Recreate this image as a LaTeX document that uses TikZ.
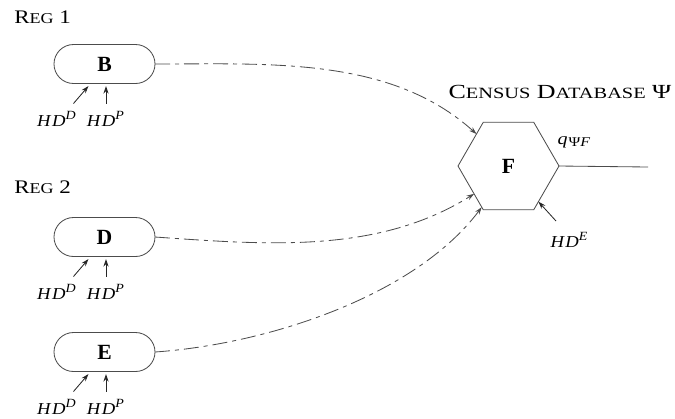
\documentclass[tikz,border=0pt]{standalone}
\usepackage{fontspec}
\usepackage{graphicx}
\setmainfont{Liberation Serif}
\usetikzlibrary{arrows.meta,shapes.geometric,calc}
\newcommand{\scx}[1]{{\fontsize{9}{10}\selectfont #1}}
\newcommand{\hs}[2]{\scalebox{#1}[1]{#2}}
\newcommand{\hdlab}[1]{\hs{1.12}{\textit{H\kern0.8pt D}\raisebox{0.9ex}{\fontsize{7.5}{8}\selectfont\textit{#1}}}}
\tikzset{
  ln/.style={draw=black!70, line width=0.5pt},
  pill/.style={ln, rectangle, rounded corners=11.7pt, minimum width=60.6pt, minimum height=23.4pt, inner sep=0pt, outer sep=0pt, font=\fontsize{13}{15}\selectfont\bfseries},
  hexa/.style={ln, regular polygon, regular polygon sides=6, shape border rotate=0, minimum size=60.6pt, inner sep=0pt, outer sep=0pt, font=\fontsize{13}{15}\selectfont\bfseries},
  arr/.style={draw=black!85, line width=0.5pt, -{Stealth[length=4.5pt,width=3pt]}},
  dd/.style={ln, dash pattern=on 9pt off 3pt on 2.4pt off 3pt, -{Stealth[length=4.5pt,width=3pt]}},
  lab/.style={inner sep=0pt, font=\fontsize{10}{12}\selectfont},
  ttl/.style={inner sep=0pt, anchor=west, font=\fontsize{11.5}{13}\selectfont}
}
\begin{document}
\begin{tikzpicture}[x=0.6pt,y=-0.6pt]
\useasboundingbox (0,0) rectangle (675,418);
% titles
\node[ttl] (reg1) at (14,17) {\hs{1.2}{R\scx{EG} 1}};
\node[ttl] (reg2) at (14,187) {\hs{1.2}{R\scx{EG} 2}};
\node[inner sep=0pt, font=\fontsize{12}{14}\selectfont] (cdb) at (560,92) {\hs{1.3}{C{\fontsize{9.4}{11}\selectfont ENSUS} D{\fontsize{9.4}{11}\selectfont ATABASE} Ψ}};
% nodes
\node[pill] (B) at (104.5,64) {B};
\node[pill] (D) at (104.5,237) {D};
\node[pill] (E) at (104.5,352) {E};
\node[hexa] (F) at (508.5,166) {F};
% bottom arrows and labels
\foreach \n in {B,D,E}{
  \coordinate (\n t1) at ($(\n.south)+(-31,20)$);
  \coordinate (\n t2) at ($(\n.south)+(1.5,20)$);
  \draw[arr] (\n t1) -- ($(\n.south)+(-16,2.5)$);
  \draw[arr] (\n t2) -- ($(\n.south)+(1.5,2.5)$);
  \node[lab] (\n hd) at ($(\n.south)+(-48,35)$) {\hdlab{D}};
  \node[lab] (\n hp) at ($(\n.south)+(1,35)$) {\hdlab{P}};
}
% dash-dot connectors
\draw[dd] (B.east) to[out=0, in=138, looseness=0.9] (F.135);
\draw[dd] (D.east) to[out=-4, in=212, looseness=0.9] (F.219);
\draw[dd] (E.east) to[out=4, in=233, looseness=0.8] (F.237);
% output
\coordinate (out) at (648,167);
\draw[ln] (F.east) -- (out);
\node[lab] (q) at (574,142) {\hs{1.2}{\textit{q}\kern0.5pt\raisebox{-0.35ex}{\fontsize{8}{9}\selectfont Ψ\textit{F}}}};
\node[lab] (hde) at (569,240) {\hdlab{E}};
\coordinate (het) at (556,221);
\draw[arr] (het) -- (F.310);
\end{tikzpicture}
\end{document}
